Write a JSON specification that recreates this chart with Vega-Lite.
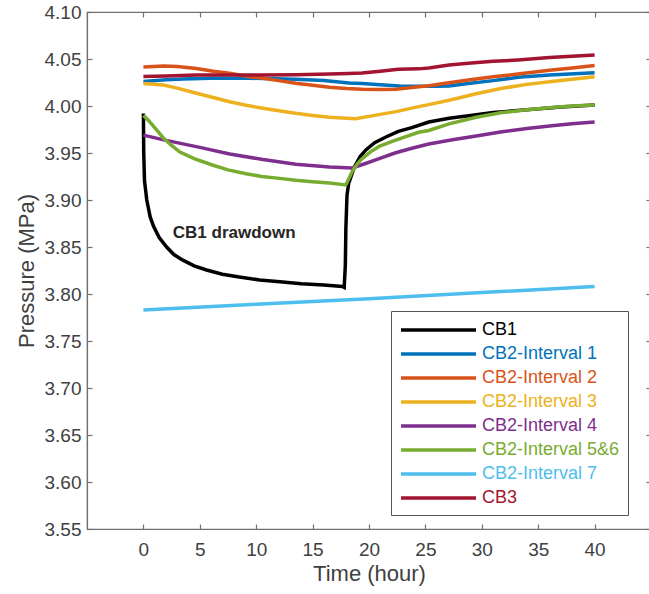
{
  "$schema": "https://vega.github.io/schema/vega-lite/v6.json",
  "width": 564,
  "height": 517,
  "autosize": "none",
  "padding": {"left": 87, "top": 12, "right": 0, "bottom": 65},
  "background": "white",
  "config": {"view": {"stroke": "#707070", "strokeWidth": 1.2}, "font": "Liberation Sans"},
  "datasets": {
    "curves": [
      {"series": "CB1", "t": 0, "p": 3.992},
      {"series": "CB1", "t": 0.03, "p": 3.95},
      {"series": "CB1", "t": 0.1, "p": 3.92},
      {"series": "CB1", "t": 0.3, "p": 3.9},
      {"series": "CB1", "t": 0.6, "p": 3.882},
      {"series": "CB1", "t": 0.9, "p": 3.872},
      {"series": "CB1", "t": 1.4, "p": 3.86},
      {"series": "CB1", "t": 2.06, "p": 3.85},
      {"series": "CB1", "t": 2.7, "p": 3.842},
      {"series": "CB1", "t": 3.5, "p": 3.836},
      {"series": "CB1", "t": 4.5, "p": 3.83},
      {"series": "CB1", "t": 5.6, "p": 3.8255},
      {"series": "CB1", "t": 7, "p": 3.821},
      {"series": "CB1", "t": 8.5, "p": 3.818},
      {"series": "CB1", "t": 10.3, "p": 3.815},
      {"series": "CB1", "t": 12.1, "p": 3.813},
      {"series": "CB1", "t": 14, "p": 3.811},
      {"series": "CB1", "t": 16, "p": 3.8095},
      {"series": "CB1", "t": 17.65, "p": 3.808},
      {"series": "CB1", "t": 17.8, "p": 3.807},
      {"series": "CB1", "t": 17.9, "p": 3.83},
      {"series": "CB1", "t": 17.95, "p": 3.87},
      {"series": "CB1", "t": 18.05, "p": 3.905},
      {"series": "CB1", "t": 18.2, "p": 3.918},
      {"series": "CB1", "t": 18.7, "p": 3.935},
      {"series": "CB1", "t": 19.2, "p": 3.946},
      {"series": "CB1", "t": 19.7, "p": 3.953},
      {"series": "CB1", "t": 20.5, "p": 3.961},
      {"series": "CB1", "t": 21.5, "p": 3.967},
      {"series": "CB1", "t": 22.6, "p": 3.973},
      {"series": "CB1", "t": 23.8, "p": 3.977},
      {"series": "CB1", "t": 25.3, "p": 3.983},
      {"series": "CB1", "t": 27.1, "p": 3.987},
      {"series": "CB1", "t": 29, "p": 3.99},
      {"series": "CB1", "t": 31, "p": 3.993},
      {"series": "CB1", "t": 34, "p": 3.996},
      {"series": "CB1", "t": 37, "p": 3.999},
      {"series": "CB1", "t": 40, "p": 4.001},

      {"series": "CB2-Interval 1", "t": 0, "p": 4.026},
      {"series": "CB2-Interval 1", "t": 2, "p": 4.028},
      {"series": "CB2-Interval 1", "t": 3.5, "p": 4.0287},
      {"series": "CB2-Interval 1", "t": 6, "p": 4.0295},
      {"series": "CB2-Interval 1", "t": 9.4, "p": 4.0295},
      {"series": "CB2-Interval 1", "t": 13.5, "p": 4.0284},
      {"series": "CB2-Interval 1", "t": 16, "p": 4.027},
      {"series": "CB2-Interval 1", "t": 18.2, "p": 4.0245},
      {"series": "CB2-Interval 1", "t": 19.4, "p": 4.024},
      {"series": "CB2-Interval 1", "t": 21, "p": 4.0225},
      {"series": "CB2-Interval 1", "t": 22.7, "p": 4.0213},
      {"series": "CB2-Interval 1", "t": 24.4, "p": 4.021},
      {"series": "CB2-Interval 1", "t": 26, "p": 4.021},
      {"series": "CB2-Interval 1", "t": 27.1, "p": 4.0212},
      {"series": "CB2-Interval 1", "t": 28.8, "p": 4.024},
      {"series": "CB2-Interval 1", "t": 31, "p": 4.027},
      {"series": "CB2-Interval 1", "t": 33.2, "p": 4.0305},
      {"series": "CB2-Interval 1", "t": 36, "p": 4.033},
      {"series": "CB2-Interval 1", "t": 40, "p": 4.0355},

      {"series": "CB2-Interval 2", "t": 0, "p": 4.0415},
      {"series": "CB2-Interval 2", "t": 1.8, "p": 4.0426},
      {"series": "CB2-Interval 2", "t": 3, "p": 4.042},
      {"series": "CB2-Interval 2", "t": 4.7, "p": 4.04},
      {"series": "CB2-Interval 2", "t": 6.2, "p": 4.037},
      {"series": "CB2-Interval 2", "t": 7.65, "p": 4.0348},
      {"series": "CB2-Interval 2", "t": 9, "p": 4.032},
      {"series": "CB2-Interval 2", "t": 10.6, "p": 4.0295},
      {"series": "CB2-Interval 2", "t": 12, "p": 4.027},
      {"series": "CB2-Interval 2", "t": 13.5, "p": 4.0242},
      {"series": "CB2-Interval 2", "t": 15, "p": 4.022},
      {"series": "CB2-Interval 2", "t": 16.5, "p": 4.02},
      {"series": "CB2-Interval 2", "t": 18, "p": 4.0185},
      {"series": "CB2-Interval 2", "t": 19.4, "p": 4.0178},
      {"series": "CB2-Interval 2", "t": 21, "p": 4.0175},
      {"series": "CB2-Interval 2", "t": 22.4, "p": 4.0178},
      {"series": "CB2-Interval 2", "t": 24.4, "p": 4.0205},
      {"series": "CB2-Interval 2", "t": 25.3, "p": 4.0215},
      {"series": "CB2-Interval 2", "t": 27.1, "p": 4.0248},
      {"series": "CB2-Interval 2", "t": 28.8, "p": 4.0277},
      {"series": "CB2-Interval 2", "t": 31, "p": 4.031},
      {"series": "CB2-Interval 2", "t": 33.2, "p": 4.034},
      {"series": "CB2-Interval 2", "t": 36, "p": 4.038},
      {"series": "CB2-Interval 2", "t": 38, "p": 4.0405},
      {"series": "CB2-Interval 2", "t": 40, "p": 4.043},

      {"series": "CB2-Interval 3", "t": 0, "p": 4.024},
      {"series": "CB2-Interval 3", "t": 1.77, "p": 4.0223},
      {"series": "CB2-Interval 3", "t": 3, "p": 4.019},
      {"series": "CB2-Interval 3", "t": 4.7, "p": 4.0135},
      {"series": "CB2-Interval 3", "t": 6.2, "p": 4.009},
      {"series": "CB2-Interval 3", "t": 7.65, "p": 4.0046},
      {"series": "CB2-Interval 3", "t": 9, "p": 4.001},
      {"series": "CB2-Interval 3", "t": 10.6, "p": 3.9976},
      {"series": "CB2-Interval 3", "t": 12, "p": 3.995},
      {"series": "CB2-Interval 3", "t": 13.5, "p": 3.9922},
      {"series": "CB2-Interval 3", "t": 15, "p": 3.99},
      {"series": "CB2-Interval 3", "t": 16.5, "p": 3.988},
      {"series": "CB2-Interval 3", "t": 18.8, "p": 3.9865},
      {"series": "CB2-Interval 3", "t": 20.5, "p": 3.99},
      {"series": "CB2-Interval 3", "t": 22.4, "p": 3.994},
      {"series": "CB2-Interval 3", "t": 24.4, "p": 3.9993},
      {"series": "CB2-Interval 3", "t": 25.3, "p": 4.0015},
      {"series": "CB2-Interval 3", "t": 27.4, "p": 4.007},
      {"series": "CB2-Interval 3", "t": 29.5, "p": 4.013},
      {"series": "CB2-Interval 3", "t": 31.8, "p": 4.0188},
      {"series": "CB2-Interval 3", "t": 34, "p": 4.023},
      {"series": "CB2-Interval 3", "t": 36.2, "p": 4.026},
      {"series": "CB2-Interval 3", "t": 38, "p": 4.0285},
      {"series": "CB2-Interval 3", "t": 40, "p": 4.031},

      {"series": "CB2-Interval 4", "t": 0, "p": 3.969},
      {"series": "CB2-Interval 4", "t": 1.8, "p": 3.964},
      {"series": "CB2-Interval 4", "t": 5, "p": 3.956},
      {"series": "CB2-Interval 4", "t": 7.65, "p": 3.949},
      {"series": "CB2-Interval 4", "t": 10.6, "p": 3.943},
      {"series": "CB2-Interval 4", "t": 13.5, "p": 3.938},
      {"series": "CB2-Interval 4", "t": 16.5, "p": 3.935},
      {"series": "CB2-Interval 4", "t": 18.5, "p": 3.934},
      {"series": "CB2-Interval 4", "t": 19.5, "p": 3.938},
      {"series": "CB2-Interval 4", "t": 20.9, "p": 3.944},
      {"series": "CB2-Interval 4", "t": 22.3, "p": 3.95},
      {"series": "CB2-Interval 4", "t": 23.8, "p": 3.955},
      {"series": "CB2-Interval 4", "t": 25.3, "p": 3.9595},
      {"series": "CB2-Interval 4", "t": 27.4, "p": 3.964},
      {"series": "CB2-Interval 4", "t": 29.5, "p": 3.968},
      {"series": "CB2-Interval 4", "t": 31.8, "p": 3.9725},
      {"series": "CB2-Interval 4", "t": 34, "p": 3.976},
      {"series": "CB2-Interval 4", "t": 36.2, "p": 3.979},
      {"series": "CB2-Interval 4", "t": 38, "p": 3.981},
      {"series": "CB2-Interval 4", "t": 40, "p": 3.983},

      {"series": "CB2-Interval 5&6", "t": 0, "p": 3.99},
      {"series": "CB2-Interval 5&6", "t": 0.5, "p": 3.984},
      {"series": "CB2-Interval 5&6", "t": 1, "p": 3.977},
      {"series": "CB2-Interval 5&6", "t": 1.77, "p": 3.966},
      {"series": "CB2-Interval 5&6", "t": 2.5, "p": 3.958},
      {"series": "CB2-Interval 5&6", "t": 3.24, "p": 3.951},
      {"series": "CB2-Interval 5&6", "t": 4.5, "p": 3.944},
      {"series": "CB2-Interval 5&6", "t": 6.18, "p": 3.937},
      {"series": "CB2-Interval 5&6", "t": 7.5, "p": 3.932},
      {"series": "CB2-Interval 5&6", "t": 9.1, "p": 3.928},
      {"series": "CB2-Interval 5&6", "t": 10.5, "p": 3.925},
      {"series": "CB2-Interval 5&6", "t": 12.07, "p": 3.923},
      {"series": "CB2-Interval 5&6", "t": 13.5, "p": 3.921},
      {"series": "CB2-Interval 5&6", "t": 15, "p": 3.9195},
      {"series": "CB2-Interval 5&6", "t": 16.5, "p": 3.918},
      {"series": "CB2-Interval 5&6", "t": 17.95, "p": 3.916},
      {"series": "CB2-Interval 5&6", "t": 18.5, "p": 3.93},
      {"series": "CB2-Interval 5&6", "t": 19, "p": 3.939},
      {"series": "CB2-Interval 5&6", "t": 19.4, "p": 3.944},
      {"series": "CB2-Interval 5&6", "t": 20.1, "p": 3.951},
      {"series": "CB2-Interval 5&6", "t": 20.9, "p": 3.957},
      {"series": "CB2-Interval 5&6", "t": 22, "p": 3.962},
      {"series": "CB2-Interval 5&6", "t": 22.95, "p": 3.966},
      {"series": "CB2-Interval 5&6", "t": 24.4, "p": 3.972},
      {"series": "CB2-Interval 5&6", "t": 25.3, "p": 3.974},
      {"series": "CB2-Interval 5&6", "t": 27.1, "p": 3.981},
      {"series": "CB2-Interval 5&6", "t": 29.5, "p": 3.988},
      {"series": "CB2-Interval 5&6", "t": 31.8, "p": 3.993},
      {"series": "CB2-Interval 5&6", "t": 34, "p": 3.996},
      {"series": "CB2-Interval 5&6", "t": 36.2, "p": 3.9985},
      {"series": "CB2-Interval 5&6", "t": 38, "p": 4.0},
      {"series": "CB2-Interval 5&6", "t": 40, "p": 4.001},

      {"series": "CB2-Interval 7", "t": 0, "p": 3.783},
      {"series": "CB2-Interval 7", "t": 10, "p": 3.789},
      {"series": "CB2-Interval 7", "t": 20, "p": 3.795},
      {"series": "CB2-Interval 7", "t": 30, "p": 3.8015},
      {"series": "CB2-Interval 7", "t": 40, "p": 3.808},

      {"series": "CB3", "t": 0, "p": 4.0315},
      {"series": "CB3", "t": 2, "p": 4.032},
      {"series": "CB3", "t": 4.7, "p": 4.033},
      {"series": "CB3", "t": 7, "p": 4.033},
      {"series": "CB3", "t": 10.6, "p": 4.033},
      {"series": "CB3", "t": 13.5, "p": 4.0333},
      {"series": "CB3", "t": 16.5, "p": 4.034},
      {"series": "CB3", "t": 18.2, "p": 4.0345},
      {"series": "CB3", "t": 19.4, "p": 4.035},
      {"series": "CB3", "t": 21, "p": 4.037},
      {"series": "CB3", "t": 22.6, "p": 4.039},
      {"series": "CB3", "t": 24.4, "p": 4.0395},
      {"series": "CB3", "t": 25.3, "p": 4.0405},
      {"series": "CB3", "t": 27.1, "p": 4.0436},
      {"series": "CB3", "t": 28.8, "p": 4.0455},
      {"series": "CB3", "t": 31, "p": 4.0475},
      {"series": "CB3", "t": 33.2, "p": 4.049},
      {"series": "CB3", "t": 36, "p": 4.0515},
      {"series": "CB3", "t": 38, "p": 4.053},
      {"series": "CB3", "t": 40, "p": 4.0543}
    ],
    "notes": [
      {"t": 8.05, "p": 3.865, "label": "CB1 drawdown"}
    ]
  },
  "layer": [
    {
      "data": {"name": "curves"},
      "mark": {"type": "line", "strokeWidth": 3.5, "clip": true},
      "encoding": {
        "x": {
          "field": "t", "type": "quantitative",
          "scale": {"domain": [-5, 45], "nice": false, "zero": false},
          "axis": {
            "orient": "bottom", "values": [0, 5, 10, 15, 20, 25, 30, 35, 40], "format": "d",
            "title": "Time (hour)", "grid": false, "tickSize": -5, "tickWidth": 1.2,
            "tickColor": "#707070", "domainColor": "#707070", "domainWidth": 1.2,
            "labelFontSize": 19, "labelColor": "#404040", "labelPadding": 16.3,
            "labelFlush": false, "labelOverlap": false,
            "titleFontSize": 22, "titleFontWeight": "normal", "titleColor": "#404040",
            "titleBaseline": "alphabetic", "titleY": 51.7, "titleX": 282
          }
        },
        "y": {
          "field": "p", "type": "quantitative",
          "scale": {"domain": [3.55, 4.1], "nice": false, "zero": false},
          "axis": {
            "orient": "left", "values": [3.55, 3.6, 3.65, 3.7, 3.75, 3.8, 3.85, 3.9, 3.95, 4.0, 4.05, 4.1], "format": ".2f",
            "title": "Pressure (MPa)", "grid": false, "tickSize": -5, "tickWidth": 1.2,
            "tickColor": "#707070", "domainColor": "#707070", "domainWidth": 1.2,
            "labelFontSize": 19, "labelColor": "#404040", "labelPadding": 11,
            "labelFlush": false, "labelOverlap": false,
            "titleFontSize": 22, "titleFontWeight": "normal", "titleColor": "#404040",
            "titleBaseline": "alphabetic", "titleX": -54, "titleY": 258.5, "titleAngle": -90
          }
        },
        "color": {
          "field": "series", "type": "nominal",
          "scale": {
            "domain": ["CB1", "CB2-Interval 1", "CB2-Interval 2", "CB2-Interval 3", "CB2-Interval 4", "CB2-Interval 5&6", "CB2-Interval 7", "CB3"],
            "range": ["#000000", "#0072BD", "#D95319", "#EDB120", "#7E2F8E", "#77AC30", "#4DBEEE", "#A2142F"]
          },
          "legend": {
            "orient": "none", "legendX": 304, "legendY": 299, "title": null,
            "symbolType": "M-1,0H7.333", "symbolSize": 324, "symbolStrokeWidth": 3.5,
            "labelFontSize": 18, "labelOffset": 61, "labelLimit": 300,
            "padding": 8, "rowPadding": 4,
            "strokeColor": "#555555", "fillColor": "white",
            "encode": {"labels": {"update": {"fill": {"scale": "color", "field": "value"}}}}
          }
        }
      }
    },
    {
      "data": {"name": "notes"},
      "mark": {"type": "text", "fontSize": 17, "fontWeight": "bold", "color": "#262626", "align": "center", "baseline": "middle"},
      "encoding": {
        "x": {
          "field": "t", "type": "quantitative",
          "scale": {"domain": [-5, 45], "nice": false, "zero": false},
          "axis": {"orient": "top", "values": [0, 5, 10, 15, 20, 25, 30, 35, 40], "labels": false, "title": null, "grid": false, "domain": false, "tickSize": -5, "tickWidth": 1.2, "tickColor": "#707070"}
        },
        "y": {
          "field": "p", "type": "quantitative",
          "scale": {"domain": [3.55, 4.1], "nice": false, "zero": false},
          "axis": {"orient": "right", "values": [3.55, 3.6, 3.65, 3.7, 3.75, 3.8, 3.85, 3.9, 3.95, 4.0, 4.05, 4.1], "labels": false, "title": null, "grid": false, "domain": false, "tickSize": -5, "tickWidth": 1.2, "tickColor": "#707070"}
        },
        "text": {"field": "label"}
      }
    }
  ],
  "resolve": {"axis": {"x": "independent", "y": "independent"}}
}
